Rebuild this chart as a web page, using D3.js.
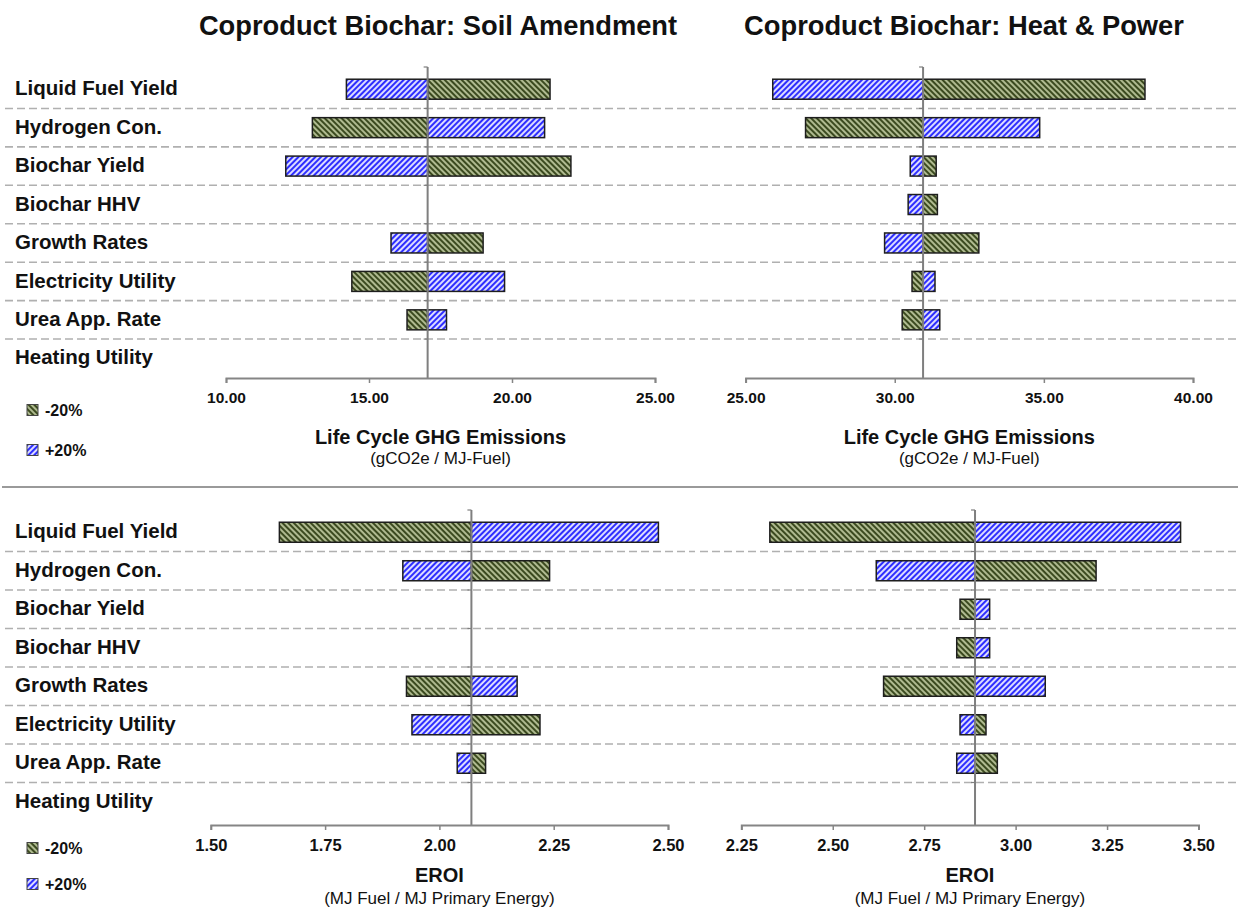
<!DOCTYPE html>
<html>
<head>
<meta charset="utf-8">
<script src="https://cdn.jsdelivr.net/npm/d3@7"></script>
<style>
  html, body { margin: 0; padding: 0; background: #fff; }
  svg { display: block; font-family: "Liberation Sans", Arial, sans-serif; }
</style>
</head>
<body>
<svg id="chart" width="1238" height="909"></svg>
<script>
// Sensitivity parameters (rows, top to bottom)
const categories = [
  "Liquid Fuel Yield", "Hydrogen Con.", "Biochar Yield", "Biochar HHV",
  "Growth Rates", "Electricity Utility", "Urea App. Rate", "Heating Utility"
];

// Life cycle GHG emissions (gCO2e / MJ-Fuel), biochar as soil amendment
const ghgSoilBase = 17.05;
const ghgSoilMinus20 = [21.33, 13.02, 22.06, null, 18.99, 14.40, 16.33, null];
const ghgSoilPlus20  = [14.21, 21.14, 12.09, null, 15.77, 19.74, 17.71, null];
const ghgSoilTicks = [10, 15, 20, 25];

// Life cycle GHG emissions, biochar for heat & power
const ghgHeatBase = 30.95;
const ghgHeatMinus20 = [38.39, 27.01, 31.39, 31.43, 32.82, 30.58, 30.25, null];
const ghgHeatPlus20  = [25.91, 34.86, 30.52, 30.45, 29.66, 31.35, 31.51, null];
const ghgHeatTicks = [25, 30, 35, 40];

// EROI (MJ Fuel / MJ Primary Energy), biochar as soil amendment
const eroiSoilBase = 2.07;
const eroiSoilMinus20 = [1.650, 2.241, null, null, 1.928, 2.220, 2.101, null];
const eroiSoilPlus20  = [2.479, 1.920, null, null, 2.170, 1.940, 2.039, null];
const eroiSoilTicks = [1.5, 1.75, 2.0, 2.25, 2.5];

// EROI, biochar for heat & power
const eroiHeatBase = 2.889;
const eroiHeatMinus20 = [2.328, 3.220, 2.848, 2.839, 2.639, 2.919, 2.950, null];
const eroiHeatPlus20  = [3.451, 2.619, 2.929, 2.929, 3.081, 2.848, 2.839, null];
const eroiHeatTicks = [2.25, 2.5, 2.75, 3.0, 3.25, 3.5];

const seriesNames = ["-20%", "+20%"];

const svg = d3.select("#chart");
const defs = svg.append("defs");

// Hatch fills
function hatch(id, bg, fg, angle, size, lw) {
  const p = defs.append("pattern")
    .attr("id", id)
    .attr("patternUnits", "userSpaceOnUse")
    .attr("width", size).attr("height", size)
    .attr("patternTransform", `rotate(${angle})`);
  p.append("rect").attr("width", size).attr("height", size).attr("fill", bg);
  p.append("line").attr("x1", size / 2).attr("x2", size / 2)
    .attr("y1", 0).attr("y2", size)
    .attr("stroke", fg).attr("stroke-width", lw);
}
hatch("hatchMinus", "#c3cea4", "#3b4a1f", -45, 4, 2.3);
hatch("hatchPlus", "#dcdcff", "#2e2eff", 45, 4, 2);
const fills = ["url(#hatchMinus)", "url(#hatchPlus)"];

const panels = [
  { base: ghgSoilBase, minus: ghgSoilMinus20, plus: ghgSoilPlus20, ticks: ghgSoilTicks,
    px: [226, 655], py: [70, 377.5], axisY: 378, grid: [5, 695], labels: true,
    title: "Coproduct Biochar: Soil Amendment", titleX: 438,
    axisTitle: "Life Cycle GHG Emissions", axisSub: "(gCO2e / MJ-Fuel)",
    tickSize: 15.5, titleOff: 59, subOff: 80 },
  { base: ghgHeatBase, minus: ghgHeatMinus20, plus: ghgHeatPlus20, ticks: ghgHeatTicks,
    px: [745.6, 1193], py: [70, 377.5], axisY: 378, grid: [700, 1238], labels: false,
    title: "Coproduct Biochar: Heat & Power", titleX: 964,
    axisTitle: "Life Cycle GHG Emissions", axisSub: "(gCO2e / MJ-Fuel)",
    tickSize: 15.5, titleOff: 59, subOff: 80 },
  { base: eroiSoilBase, minus: eroiSoilMinus20, plus: eroiSoilPlus20, ticks: eroiSoilTicks,
    px: [210.8, 668], py: [513, 821], axisY: 825, grid: [5, 695], labels: true,
    axisTitle: "EROI", axisSub: "(MJ Fuel / MJ Primary Energy)",
    tickSize: 16.5, titleOff: 50, subOff: 73 },
  { base: eroiHeatBase, minus: eroiHeatMinus20, plus: eroiHeatPlus20, ticks: eroiHeatTicks,
    px: [741.3, 1198.5], py: [513, 821], axisY: 825, grid: [700, 1238], labels: false,
    axisTitle: "EROI", axisSub: "(MJ Fuel / MJ Primary Energy)",
    tickSize: 16.5, titleOff: 50, subOff: 73 }
];

panels.forEach(p => {
  const g = svg.append("g");
  const x = d3.scaleLinear()
    .domain([p.ticks[0], p.ticks[p.ticks.length - 1]])
    .range(p.px);
  const y = d3.scaleBand().domain(categories).range(p.py)
    .paddingInner(0.48).paddingOuter(0.24);
  const step = y.step();

  // dashed row separators
  g.selectAll("line.sep").data(categories.slice(1)).join("line")
    .attr("x1", p.grid[0]).attr("x2", p.grid[1])
    .attr("y1", (d, i) => p.py[0] + step * (i + 1))
    .attr("y2", (d, i) => p.py[0] + step * (i + 1))
    .attr("stroke", "#b0b0b0").attr("stroke-width", 1.6)
    .attr("stroke-dasharray", "8,4");

  // bars: one per series per row, drawn from the base value
  [p.minus, p.plus].forEach((vals, si) => {
    const rows = categories.map((c, i) => ({ c, v: vals[i] }))
      .filter(d => d.v !== null && d.v !== p.base);
    g.selectAll(null).data(rows).join("rect")
      .attr("x", d => x(Math.min(d.v, p.base)))
      .attr("width", d => Math.abs(x(d.v) - x(p.base)))
      .attr("y", d => y(d.c))
      .attr("height", y.bandwidth())
      .attr("fill", fills[si])
      .attr("stroke", "#1e1e1e").attr("stroke-width", 1.5);
  });

  // vertical base line with small category ticks
  const bx = x(p.base);
  g.append("line").attr("x1", bx).attr("x2", bx)
    .attr("y1", p.py[0] - 3).attr("y2", p.axisY)
    .attr("stroke", "#7f7f7f").attr("stroke-width", 2);
  g.selectAll("line.ctick").data(d3.range(8)).join("line")
    .attr("x1", bx - 4).attr("x2", bx)
    .attr("y1", i => i === 0 ? p.py[0] - 3 : p.py[0] + step * i)
    .attr("y2", i => i === 0 ? p.py[0] - 3 : p.py[0] + step * i)
    .attr("stroke", "#7f7f7f").attr("stroke-width", 1.2);

  // value axis
  const ax = g.append("g").attr("transform", `translate(0,${p.axisY})`)
    .call(d3.axisBottom(x).tickValues(p.ticks).tickSize(5).tickSizeOuter(5)
      .tickFormat(d3.format(".2f")).tickPadding(9));
  ax.select(".domain").attr("stroke", "#858585").attr("stroke-width", 2);
  ax.selectAll(".tick line").attr("stroke", "#858585").attr("stroke-width", 1.5);
  ax.selectAll(".tick text")
    .attr("fill", "#111").attr("font-size", p.tickSize).attr("font-weight", "bold")
    .attr("font-family", "Liberation Sans, Arial, sans-serif");

  const cx = (p.px[0] + p.px[1]) / 2;
  g.append("text").attr("x", cx).attr("y", p.axisY + p.titleOff)
    .attr("text-anchor", "middle").attr("dy", "0.35em")
    .attr("font-size", 20).attr("font-weight", "bold").attr("fill", "#111")
    .text(p.axisTitle);
  g.append("text").attr("x", cx).attr("y", p.axisY + p.subOff)
    .attr("text-anchor", "middle").attr("dy", "0.35em")
    .attr("font-size", 17).attr("fill", "#111")
    .text(p.axisSub);

  if (p.title) {
    g.append("text").attr("x", p.titleX).attr("y", 25)
      .attr("text-anchor", "middle").attr("dy", "0.35em")
      .attr("font-size", 27.3).attr("font-weight", "bold").attr("fill", "#111")
      .text(p.title);
  }

  if (p.labels) {
    g.selectAll(null).data(categories).join("text")
      .attr("x", 15).attr("y", d => y(d) + y.bandwidth() / 2 - 1)
      .attr("dy", "0.35em")
      .attr("font-size", 20.5).attr("font-weight", "bold").attr("fill", "#111")
      .text(d => d);
  }
});

// legends
[[410, 450], [848, 884]].forEach(ys => {
  const lg = svg.append("g");
  seriesNames.forEach((name, i) => {
    lg.append("rect").attr("x", 27).attr("y", ys[i] - 5.5)
      .attr("width", 11).attr("height", 11)
      .attr("fill", fills[i]).attr("stroke", "#444").attr("stroke-width", 1);
    lg.append("text").attr("x", 45).attr("y", ys[i]).attr("dy", "0.35em")
      .attr("font-size", 16).attr("font-weight", "bold").attr("fill", "#111")
      .text(name);
  });
});

// divider between the two chart rows
svg.append("line").attr("x1", 2).attr("x2", 1238)
  .attr("y1", 487).attr("y2", 487)
  .attr("stroke", "#9a9a9a").attr("stroke-width", 2);
</script>
</body>
</html>
